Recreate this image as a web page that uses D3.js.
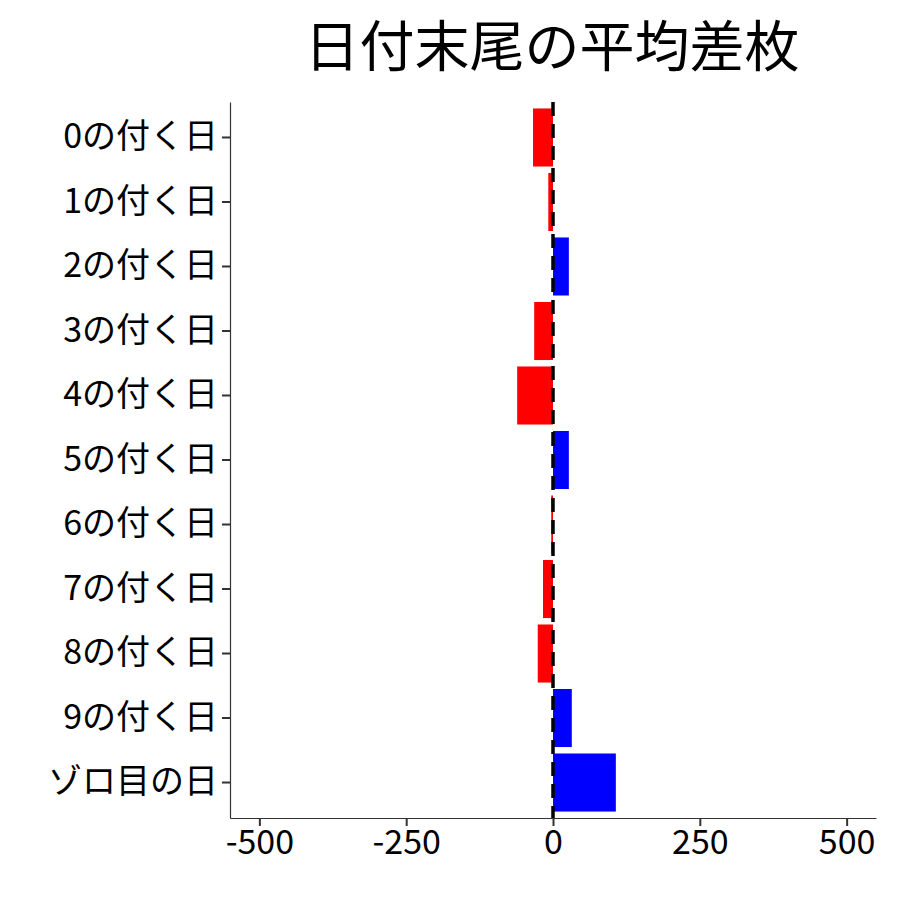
<!DOCTYPE html>
<html><head><meta charset="utf-8">
<script src="https://cdn.jsdelivr.net/npm/d3@7"></script>
<style>body{margin:0;background:#fff}</style></head>
<body><svg id="c" width="900" height="900"></svg>
<script>
const categories = ["0の付く日","1の付く日","2の付く日","3の付く日","4の付く日","5の付く日","6の付く日","7の付く日","8の付く日","9の付く日","ゾロ目の日"];
const values = [-34,-8,27,-32,-61,27,-3,-17,-26,32,107];
const xTicks = [-500,-250,0,250,500];
const font = "'Noto Sans CJK JP', sans-serif";
const svg = d3.select("#c");
const L=230,R=876,T=102,B=818;
const x = d3.scaleLinear().domain([-550,550]).range([L,R]);
const y = d3.scaleBand().domain(categories).range([T,B]).paddingInner(0.1).paddingOuter(0.1);
svg.append("text").attr("x",552).attr("y",66).attr("text-anchor","middle")
  .style("font-family",font).style("font-size","55px").text("日付末尾の平均差枚");
svg.selectAll("rect.b").data(values).join("rect")
  .attr("x",d=>x(Math.min(0,d))).attr("width",d=>Math.abs(x(d)-x(0)))
  .attr("y",(d,i)=>y(categories[i])).attr("height",y.bandwidth())
  .attr("fill",d=>d<0?"#ff0000":"#0000ff");
svg.append("line").attr("x1",x(0)).attr("x2",x(0)).attr("y1",T).attr("y2",B)
  .attr("stroke","#000").attr("stroke-width",3.5).attr("stroke-dasharray","14,8");
const ya = svg.append("g").attr("transform",`translate(${L},0)`).call(d3.axisLeft(y).tickSize(8).tickSizeOuter(0).tickPadding(4));
const xa = svg.append("g").attr("transform",`translate(0,${B})`).call(d3.axisBottom(x).tickValues(xTicks).tickSize(8).tickSizeOuter(0).tickPadding(4).tickFormat(d=>String(d)));
[ya,xa].forEach(a=>{a.selectAll("path,line").attr("stroke","#333").attr("stroke-width",1.2);
  a.selectAll("text").style("font-family",font).style("font-size","34px").attr("fill","#000");});
ya.selectAll(".tick line").attr("stroke-width",2);
xa.selectAll(".tick line").attr("stroke-width",2);
</script></body></html>
